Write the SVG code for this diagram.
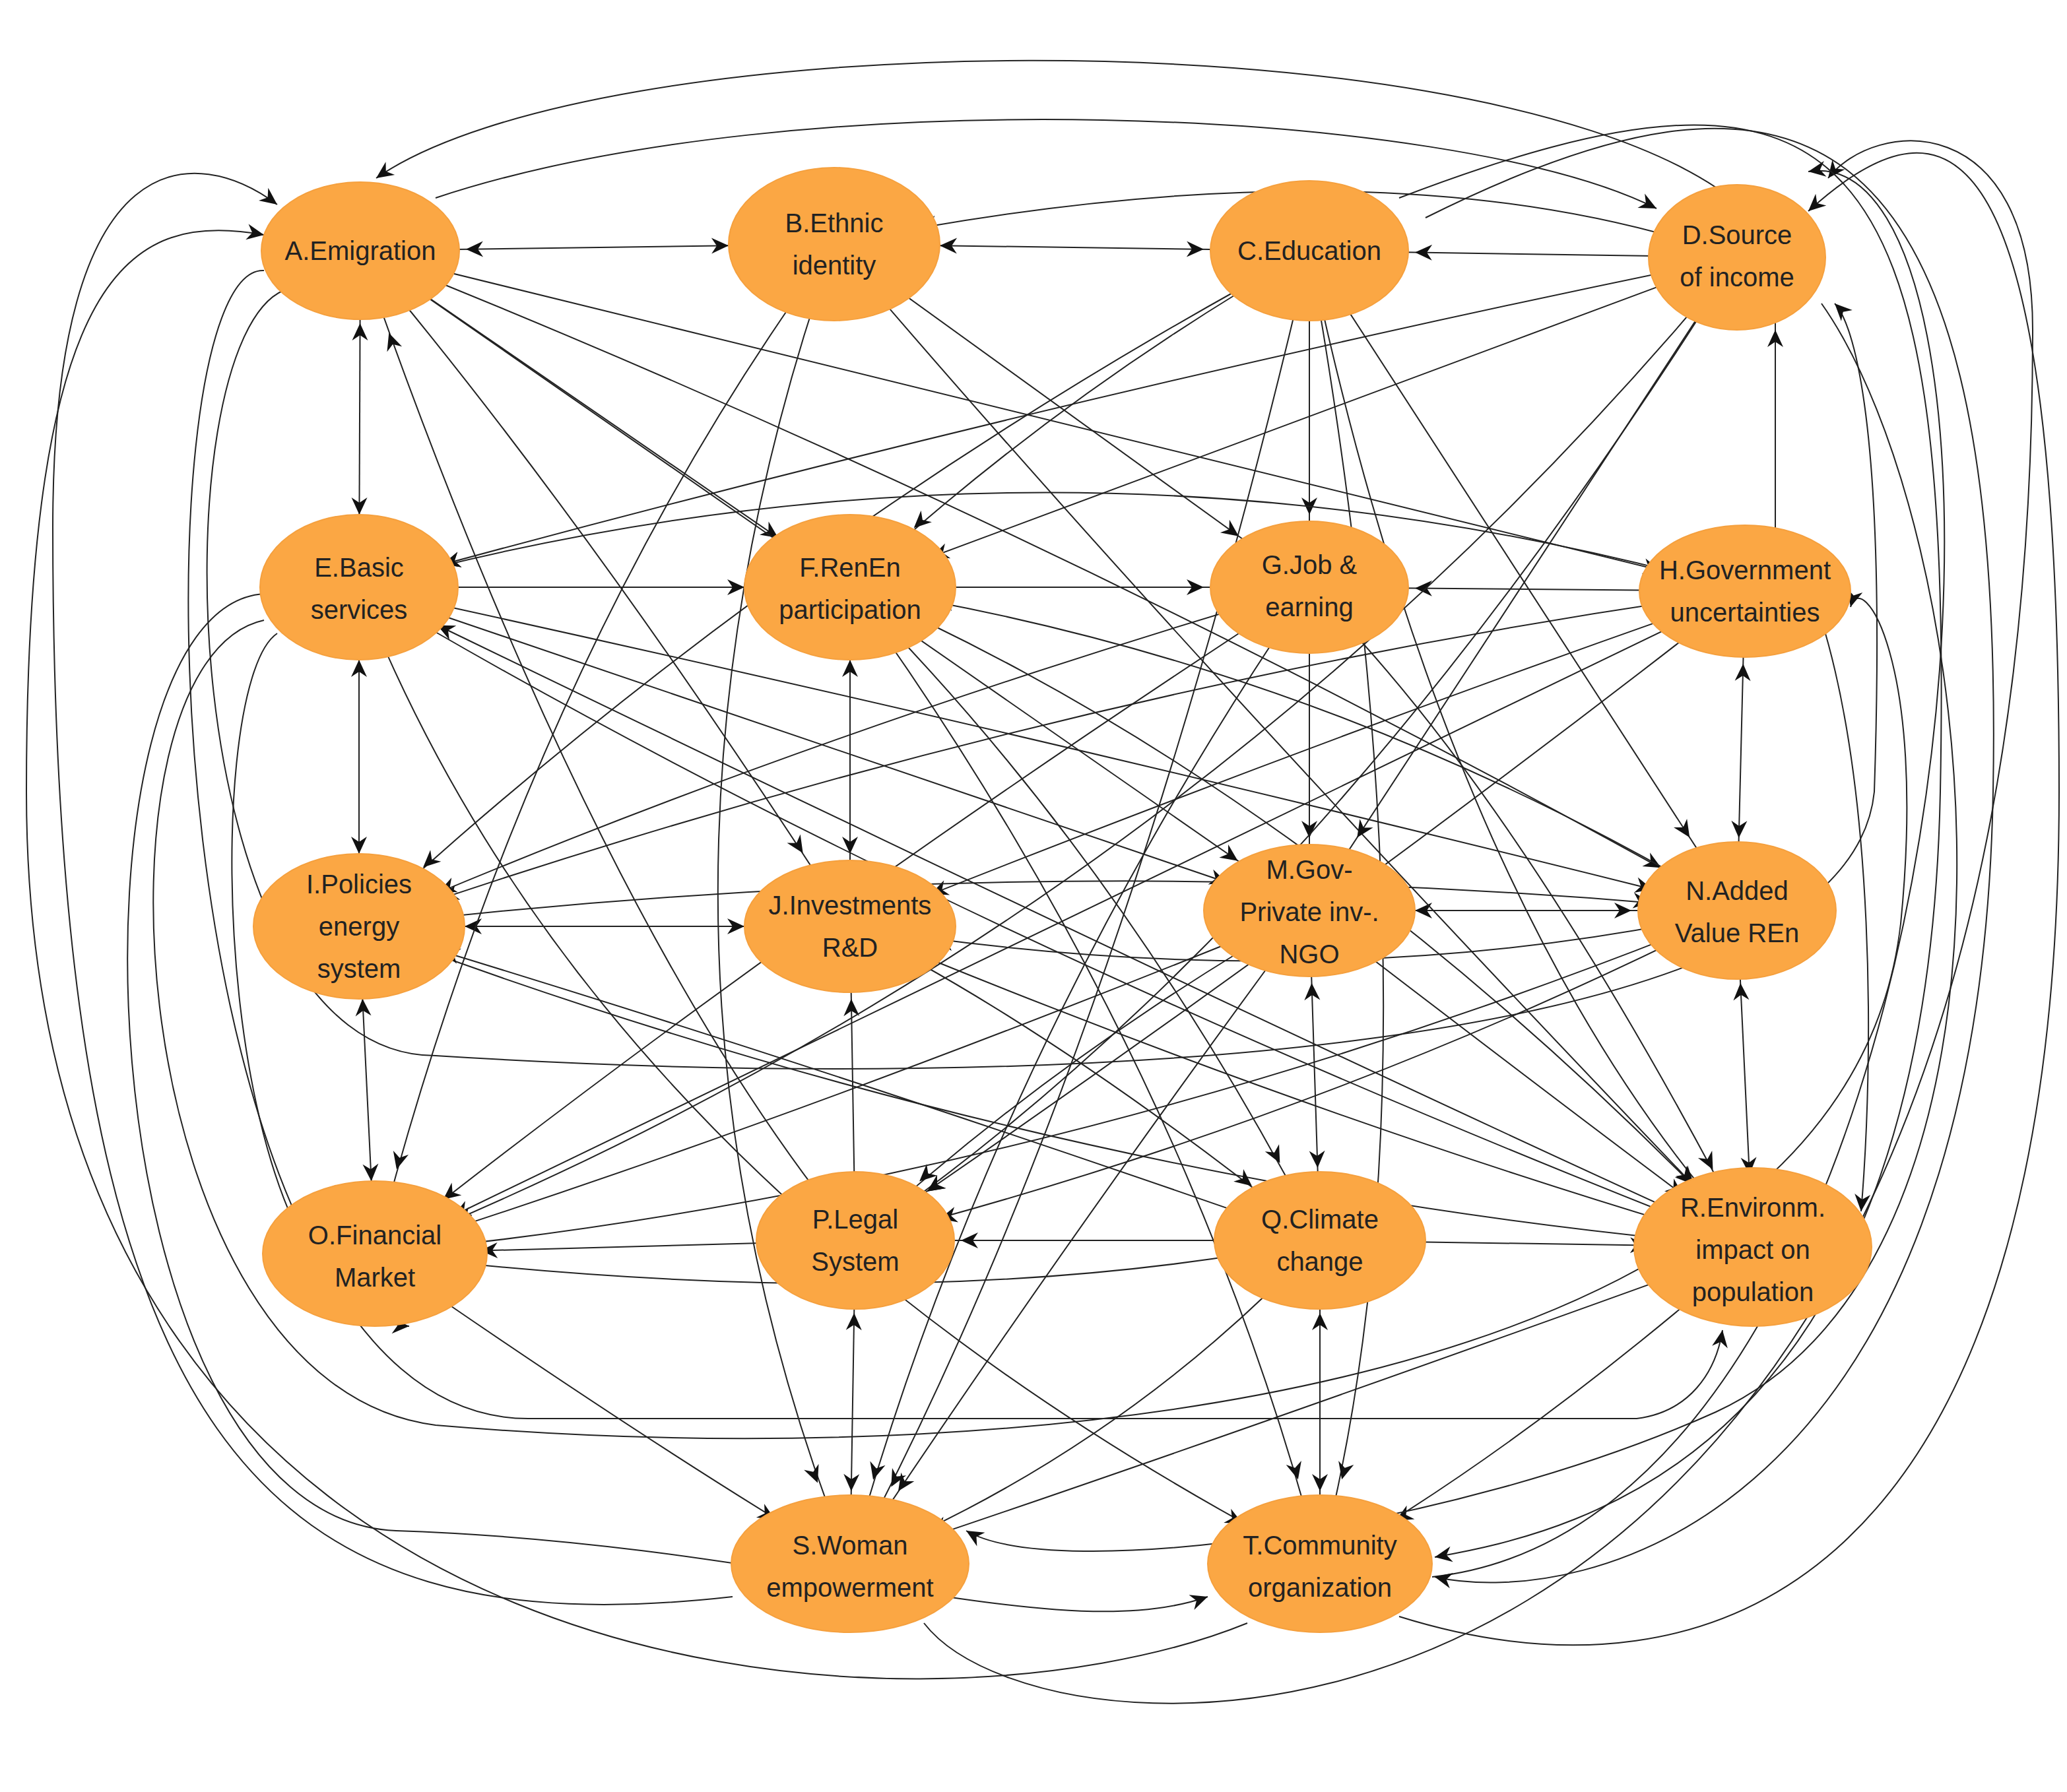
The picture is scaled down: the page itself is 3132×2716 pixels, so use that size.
<svg xmlns="http://www.w3.org/2000/svg" width="3132" height="2716" viewBox="0 0 3132 2716">
<style>
.n{fill:#FBA744;stroke:#F5A03E;stroke-width:1}
.t{font-family:"Liberation Sans",Arial,sans-serif;font-size:20px;fill:#222;text-anchor:middle}
#edges path{fill:none;stroke:#222;stroke-width:1}
.v{marker-end:url(#e55)} .d{marker-end:url(#e65)} .h{marker-end:url(#e80)} .z{marker-end:url(#e0)}
.vv{marker-start:url(#s55);marker-end:url(#e55)} .hh{marker-start:url(#s80);marker-end:url(#e80)}
</style>
<defs>
<marker id="e0" markerUnits="userSpaceOnUse" orient="auto" overflow="visible" refX="0" refY="0" markerWidth="1" markerHeight="1"><path d="M0,0 L-13,-6 L-9,0 L-13,6 Z" fill="#111"/></marker>
<marker id="e55" markerUnits="userSpaceOnUse" orient="auto" overflow="visible" refX="0" refY="0" markerWidth="1" markerHeight="1"><path d="M-55,0 L-68,-6 L-64,0 L-68,6 Z" fill="#111"/></marker>
<marker id="e65" markerUnits="userSpaceOnUse" orient="auto" overflow="visible" refX="0" refY="0" markerWidth="1" markerHeight="1"><path d="M-66,0 L-79,-6 L-75,0 L-79,6 Z" fill="#111"/></marker>
<marker id="e80" markerUnits="userSpaceOnUse" orient="auto" overflow="visible" refX="0" refY="0" markerWidth="1" markerHeight="1"><path d="M-80,0 L-93,-6 L-89,0 L-93,6 Z" fill="#111"/></marker>
<marker id="s55" markerUnits="userSpaceOnUse" orient="auto-start-reverse" overflow="visible" refX="0" refY="0" markerWidth="1" markerHeight="1"><path d="M-55,0 L-68,-6 L-64,0 L-68,6 Z" fill="#111"/></marker>
<marker id="s80" markerUnits="userSpaceOnUse" orient="auto-start-reverse" overflow="visible" refX="0" refY="0" markerWidth="1" markerHeight="1"><path d="M-80,0 L-93,-6 L-89,0 L-93,6 Z" fill="#111"/></marker>
</defs>
<rect width="3132" height="2716" fill="#fff"/>
<g transform="scale(2)">
<g id="edges">
<path class="hh" d="M273,190 L632,185"/>
<path class="hh" d="M632,185 L992,190"/>
<path class="h" d="M1316,195 L992,190"/>
<path class="vv" d="M273,190 L272,445"/>
<path class="vv" d="M272,445 L272,702"/>
<path class="vv" d="M272,702 L284,950"/>
<path class="h" d="M272,445 L644,445"/>
<path class="h" d="M1322,448 L992,445"/>
<path class="h" d="M644,445 L992,445"/>
<path class="v" d="M992,190 L992,445"/>
<path class="v" d="M992,445 L992,690"/>
<path class="vv" d="M644,445 L644,702"/>
<path class="hh" d="M272,702 L644,702"/>
<path class="hh" d="M992,690 L1316,690"/>
<path class="vv" d="M1322,448 L1316,690"/>
<path class="vv" d="M1316,690 L1328,945"/>
<path class="vv" d="M992,690 L1000,940"/>
<path class="vv" d="M1000,940 L1000,1185"/>
<path class="vv" d="M648,940 L644,1185"/>
<path class="v" d="M648,940 L644,702"/>
<path class="h" d="M1000,940 L1328,945"/>
<path class="h" d="M648,940 L284,950"/>
<path class="h" d="M1000,940 L648,940"/>
<path class="v" d="M1345,420 L1345,195"/>
<path class="d" d="M273,190 L644,445"/>
<path class="d" d="M273,190 Q450,400 644,702"/>
<path class="d" d="M273,190 L992,690"/>
<path class="d" d="M273,190 Q800,400 1316,690"/>
<path class="d" d="M273,190 L1322,448"/>
<path class="d" d="M632,185 L992,445"/>
<path class="d" d="M632,185 Q900,500 1328,945"/>
<path class="d" d="M632,185 Q400,500 284,950"/>
<path class="d" d="M632,185 Q450,700 644,1185"/>
<path class="d" d="M992,190 Q800,300 644,445"/>
<path class="d" d="M992,190 Q600,400 272,702"/>
<path class="d" d="M992,190 L1316,690"/>
<path class="d" d="M992,190 Q1100,700 1328,945"/>
<path class="d" d="M992,190 Q1100,800 1000,1185"/>
<path class="d" d="M992,190 Q850,800 644,1185"/>
<path class="d" d="M1316,195 Q800,300 272,445"/>
<path class="d" d="M1316,195 L644,445"/>
<path class="d" d="M1316,195 L992,690"/>
<path class="d" d="M1316,195 Q900,700 284,950"/>
<path class="d" d="M1316,195 Q1000,700 648,940"/>
<path class="d" d="M1316,195 Q1050,100 632,185"/>
<path class="d" d="M272,445 L992,690"/>
<path class="d" d="M272,445 Q800,560 1316,690"/>
<path class="d" d="M272,445 Q700,700 1328,945"/>
<path class="d" d="M644,445 Q1000,600 1328,945"/>
<path class="d" d="M644,445 Q900,800 1000,1185"/>
<path class="d" d="M644,445 Q850,650 1000,940"/>
<path class="d" d="M992,445 Q600,700 284,950"/>
<path class="d" d="M992,445 Q750,800 644,1185"/>
<path class="d" d="M992,445 Q600,560 272,702"/>
<path class="d" d="M992,445 Q1150,600 1328,945"/>
<path class="d" d="M1322,448 Q800,300 272,445"/>
<path class="d" d="M1322,448 Q800,520 272,702"/>
<path class="d" d="M1322,448 Q800,700 284,950"/>
<path class="d" d="M1322,448 Q1000,700 648,940"/>
<path class="d" d="M1322,448 Q1000,560 644,702"/>
<path class="d" d="M272,702 Q800,900 1328,945"/>
<path class="d" d="M272,702 Q800,640 1316,690"/>
<path class="d" d="M644,702 Q1000,850 1328,945"/>
<path class="d" d="M644,702 Q800,780 1000,940"/>
<path class="d" d="M992,690 Q800,800 648,940"/>
<path class="d" d="M992,690 Q800,950 644,1185"/>
<path class="d" d="M992,690 Q600,850 284,950"/>
<path class="d" d="M1316,690 Q1000,850 648,940"/>
<path class="d" d="M1316,690 Q800,900 284,950"/>
<path class="d" d="M1316,690 Q1000,760 644,702"/>
<path class="d" d="M1000,940 Q700,1000 284,950"/>
<path class="d" d="M1000,940 Q850,1100 644,1185"/>
<path class="d" d="M1000,940 Q600,800 272,702"/>
<path class="d" d="M1328,945 Q900,1100 644,1185"/>
<path class="d" d="M272,445 Q450,900 1000,1185"/>
<path class="d" d="M284,950 Q500,1100 644,1185"/>
<path class="d" d="M1328,945 Q1150,1100 1000,1185"/>
<path class="d" d="M992,690 Q1200,850 1328,945"/>
<path class="d" d="M1328,945 Q900,750 272,445"/>
<path class="d" d="M648,940 Q450,700 273,190"/>
<path class="d" d="M1316,690 Q1000,500 644,445"/>
<path class="z" d="M1300,142 C1100,10 450,20 285,135"/>
<path class="z" d="M330,150 C600,60 1100,80 1255,158"/>
<path class="z" d="M1085,1195 C1500,1150 1560,100 1370,130"/>
<path class="z" d="M700,1230 C800,1360 1540,1380 1540,250 C1540,80 1420,90 1385,135"/>
<path class="z" d="M555,1210 C200,1250 40,1100 40,400 C40,100 150,110 210,155"/>
<path class="z" d="M945,1230 C700,1330 20,1300 20,600 C20,200 100,160 200,178"/>
<path class="z" d="M200,450 C40,460 60,1150 300,1160 C600,1170 800,1250 915,1210"/>
<path class="z" d="M200,205 C100,200 110,1075 400,1075 L1240,1075 C1280,1070 1300,1040 1305,1008"/>
<path class="z" d="M1060,150 C1400,20 1480,100 1470,600 C1460,1100 1200,1160 1087,1180"/>
<path class="z" d="M1080,165 C1350,30 1520,60 1510,600 C1500,1150 1200,1220 1087,1195"/>
<path class="z" d="M1380,230 C1500,400 1560,950 1300,1070 C1100,1160 800,1200 732,1160"/>
<path class="z" d="M1060,1225 C1300,1300 1560,1200 1560,600 C1560,100 1480,60 1370,160"/>
<path class="z" d="M200,470 C60,500 90,1050 330,1080 C800,1120 1400,1050 1440,700 C1460,500 1410,430 1402,460"/>
<path class="z" d="M215,220 C120,260 130,800 330,800 C800,830 1400,800 1420,600 C1430,300 1400,240 1390,230"/>
<path class="z" d="M210,480 C150,520 160,1000 310,1005"/>
<path class="z" d="M1380,470 C1420,600 1420,800 1410,918"/>
</g>
<g id="A"><ellipse class="n" cx="273" cy="190" rx="75" ry="52"/><text class="t" x="273" y="197">A.Emigration</text></g>
<g id="B"><ellipse class="n" cx="632" cy="185" rx="80" ry="58"/><text class="t" x="632" y="176">B.Ethnic</text><text class="t" x="632" y="208">identity</text></g>
<g id="C"><ellipse class="n" cx="992" cy="190" rx="75" ry="53"/><text class="t" x="992" y="197">C.Education</text></g>
<g id="D"><ellipse class="n" cx="1316" cy="195" rx="67" ry="55"/><text class="t" x="1316" y="185">D.Source</text><text class="t" x="1316" y="217">of income</text></g>
<g id="E"><ellipse class="n" cx="272" cy="445" rx="75" ry="55"/><text class="t" x="272" y="437">E.Basic</text><text class="t" x="272" y="469">services</text></g>
<g id="F"><ellipse class="n" cx="644" cy="445" rx="80" ry="55"/><text class="t" x="644" y="437">F.RenEn</text><text class="t" x="644" y="469">participation</text></g>
<g id="G"><ellipse class="n" cx="992" cy="445" rx="75" ry="50"/><text class="t" x="992" y="435">G.Job &amp;</text><text class="t" x="992" y="467">earning</text></g>
<g id="H"><ellipse class="n" cx="1322" cy="448" rx="80" ry="50"/><text class="t" x="1322" y="439">H.Government</text><text class="t" x="1322" y="471">uncertainties</text></g>
<g id="I"><ellipse class="n" cx="272" cy="702" rx="80" ry="55"/><text class="t" x="272" y="677">I.Policies</text><text class="t" x="272" y="709">energy</text><text class="t" x="272" y="741">system</text></g>
<g id="J"><ellipse class="n" cx="644" cy="702" rx="80" ry="50"/><text class="t" x="644" y="693">J.Investments</text><text class="t" x="644" y="725">R&amp;D</text></g>
<g id="M"><ellipse class="n" cx="992" cy="690" rx="80" ry="50"/><text class="t" x="992" y="666">M.Gov-</text><text class="t" x="992" y="698">Private inv-.</text><text class="t" x="992" y="730">NGO</text></g>
<g id="N"><ellipse class="n" cx="1316" cy="690" rx="75" ry="52"/><text class="t" x="1316" y="682">N.Added</text><text class="t" x="1316" y="714">Value REn</text></g>
<g id="O"><ellipse class="n" cx="284" cy="950" rx="85" ry="55"/><text class="t" x="284" y="943">O.Financial</text><text class="t" x="284" y="975">Market</text></g>
<g id="P"><ellipse class="n" cx="648" cy="940" rx="75" ry="52"/><text class="t" x="648" y="931">P.Legal</text><text class="t" x="648" y="963">System</text></g>
<g id="Q"><ellipse class="n" cx="1000" cy="940" rx="80" ry="52"/><text class="t" x="1000" y="931">Q.Climate</text><text class="t" x="1000" y="963">change</text></g>
<g id="R"><ellipse class="n" cx="1328" cy="945" rx="90" ry="60"/><text class="t" x="1328" y="922">R.Environm.</text><text class="t" x="1328" y="954">impact on</text><text class="t" x="1328" y="986">population</text></g>
<g id="S"><ellipse class="n" cx="644" cy="1185" rx="90" ry="52"/><text class="t" x="644" y="1178">S.Woman</text><text class="t" x="644" y="1210">empowerment</text></g>
<g id="T"><ellipse class="n" cx="1000" cy="1185" rx="85" ry="52"/><text class="t" x="1000" y="1178">T.Community</text><text class="t" x="1000" y="1210">organization</text></g>
</g>
</svg>
